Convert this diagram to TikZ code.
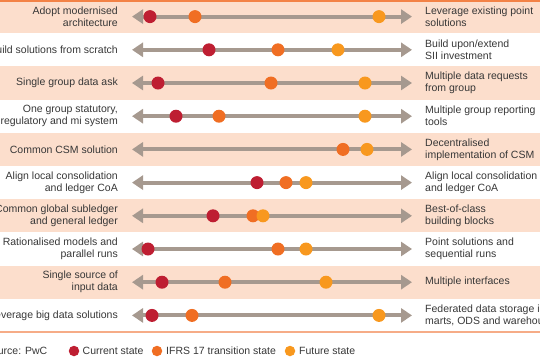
\documentclass[tikz,border=0pt]{standalone}
\usepackage{fontspec}
\setmainfont{Liberation Sans}
\usetikzlibrary{arrows.meta}
\definecolor{cur}{RGB}{190,30,50}
\definecolor{trans}{RGB}{240,110,35}
\definecolor{fut}{RGB}{248,152,30}
\definecolor{rowshade}{RGB}{252,222,204}
\definecolor{shaft}{RGB}{166,153,143}
\definecolor{topline}{RGB}{243,130,70}
\definecolor{botline}{RGB}{246,172,135}
\definecolor{txt}{RGB}{55,55,55}
\tikzset{
  x=1pt, y=-1pt,
  lab/.style={font=\fontsize{10.5}{12}\selectfont, text=txt, inner sep=0pt},
  leftlab/.style={lab, anchor=east, align=right},
  rightlab/.style={lab, anchor=west, align=left},
  dot/.style={circle, inner sep=0pt, minimum size=13pt},
  ldot/.style={circle, inner sep=0pt, minimum size=10.5pt},
  scalearrow/.style={draw=shaft, line width=4pt, {Triangle[length=11pt,width=14pt]}-{Triangle[length=11pt,width=14pt]}},
}
\begin{document}
\begin{tikzpicture}
\useasboundingbox (0,0) rectangle (540,360);
\clip (0,0) rectangle (540,360);
% shaded rows
\foreach \i in {0,2,4,6,8} {
  \fill[rowshade] (0,{\i*33.2}) rectangle (540,{(\i+1)*33.2});
}
\draw[topline, line width=2pt] (0,0.8) -- (540,0.8);
\draw[botline, line width=1.6pt] (0,332) -- (540,332);
% arrows
\foreach \i in {1,...,10} {
  \coordinate (L\i) at (132,{(\i-0.5)*33.2});
  \coordinate (R\i) at (412,{(\i-0.5)*33.2});
  \draw[scalearrow] (L\i) -- (R\i);
}
% left labels
\node[leftlab] (a1) at (118,16.6) {Adopt modernised\\architecture};
\node[leftlab] (a2) at (118,49.8) {Build solutions from scratch};
\node[leftlab] (a3) at (118,83) {Single group data ask};
\node[leftlab] (a4) at (118,116.2) {One group statutory,\\regulatory and mi system};
\node[leftlab] (a5) at (118,149.4) {Common CSM solution};
\node[leftlab] (a6) at (118,182.6) {Align local consolidation\\and ledger CoA};
\node[leftlab] (a7) at (118,215.8) {Common global subledger\\and general ledger};
\node[leftlab] (a8) at (118,249) {Rationalised models and\\parallel runs};
\node[leftlab] (a9) at (118,282.2) {Single source of\\input data};
\node[leftlab] (a10) at (118,315.4) {Leverage big data solutions};
% right labels
\node[rightlab] (b1) at (425,16.6) {Leverage existing point\\solutions};
\node[rightlab] (b2) at (425,49.8) {Build upon/extend\\SII investment};
\node[rightlab] (b3) at (425,83) {Multiple data requests\\from group};
\node[rightlab] (b4) at (425,116.2) {Multiple group reporting\\tools};
\node[rightlab] (b5) at (425,149.4) {Decentralised\\implementation of CSM};
\node[rightlab] (b6) at (425,182.6) {Align local consolidation\\and ledger CoA};
\node[rightlab] (b7) at (425,215.8) {Best-of-class\\building blocks};
\node[rightlab] (b8) at (425,249) {Point solutions and\\sequential runs};
\node[rightlab] (b9) at (425,282.2) {Multiple interfaces};
\node[rightlab] (b10) at (425,315.4) {Federated data storage in\\marts, ODS and warehouses};
% dots: current, transition, future
\node[dot, fill=cur] (c1) at (150,16.6) {};
\node[dot, fill=trans] (t1) at (195,16.6) {};
\node[dot, fill=fut] (f1) at (379,16.6) {};
\node[dot, fill=cur] (c2) at (209,49.8) {};
\node[dot, fill=trans] (t2) at (278,49.8) {};
\node[dot, fill=fut] (f2) at (338,49.8) {};
\node[dot, fill=cur] (c3) at (158,83) {};
\node[dot, fill=trans] (t3) at (271,83) {};
\node[dot, fill=fut] (f3) at (365,83) {};
\node[dot, fill=cur] (c4) at (176,116.2) {};
\node[dot, fill=trans] (t4) at (219,116.2) {};
\node[dot, fill=fut] (f4) at (365,116.2) {};
\node[dot, fill=trans] (t5) at (343,149.4) {};
\node[dot, fill=fut] (f5) at (367,149.4) {};
\node[dot, fill=cur] (c6) at (257,182.6) {};
\node[dot, fill=trans] (t6) at (286,182.6) {};
\node[dot, fill=fut] (f6) at (306,182.6) {};
\node[dot, fill=cur] (c7) at (213,215.8) {};
\node[dot, fill=trans] (t7) at (253,215.8) {};
\node[dot, fill=fut] (f7) at (263,215.8) {};
\node[dot, fill=cur] (c8) at (148,249) {};
\node[dot, fill=trans] (t8) at (278,249) {};
\node[dot, fill=fut] (f8) at (306,249) {};
\node[dot, fill=cur] (c9) at (162,282.2) {};
\node[dot, fill=trans] (t9) at (225,282.2) {};
\node[dot, fill=fut] (f9) at (326,282.2) {};
\node[dot, fill=cur] (c10) at (152,315.4) {};
\node[dot, fill=trans] (t10) at (192,315.4) {};
\node[dot, fill=fut] (f10) at (379,315.4) {};
% legend
\node[lab, anchor=east] (src) at (47.5,351) {Source: PwC};
\node[ldot, fill=cur] (lc) at (74,351) {};
\node[lab, anchor=west] (lct) at (82.5,351) {Current state};
\node[ldot, fill=trans] (lt) at (157,351) {};
\node[lab, anchor=west] (ltt) at (166,351) {IFRS 17 transition state};
\node[ldot, fill=fut] (lf) at (290,351) {};
\node[lab, anchor=west] (lft) at (299,351) {Future state};
\end{tikzpicture}
\end{document}
